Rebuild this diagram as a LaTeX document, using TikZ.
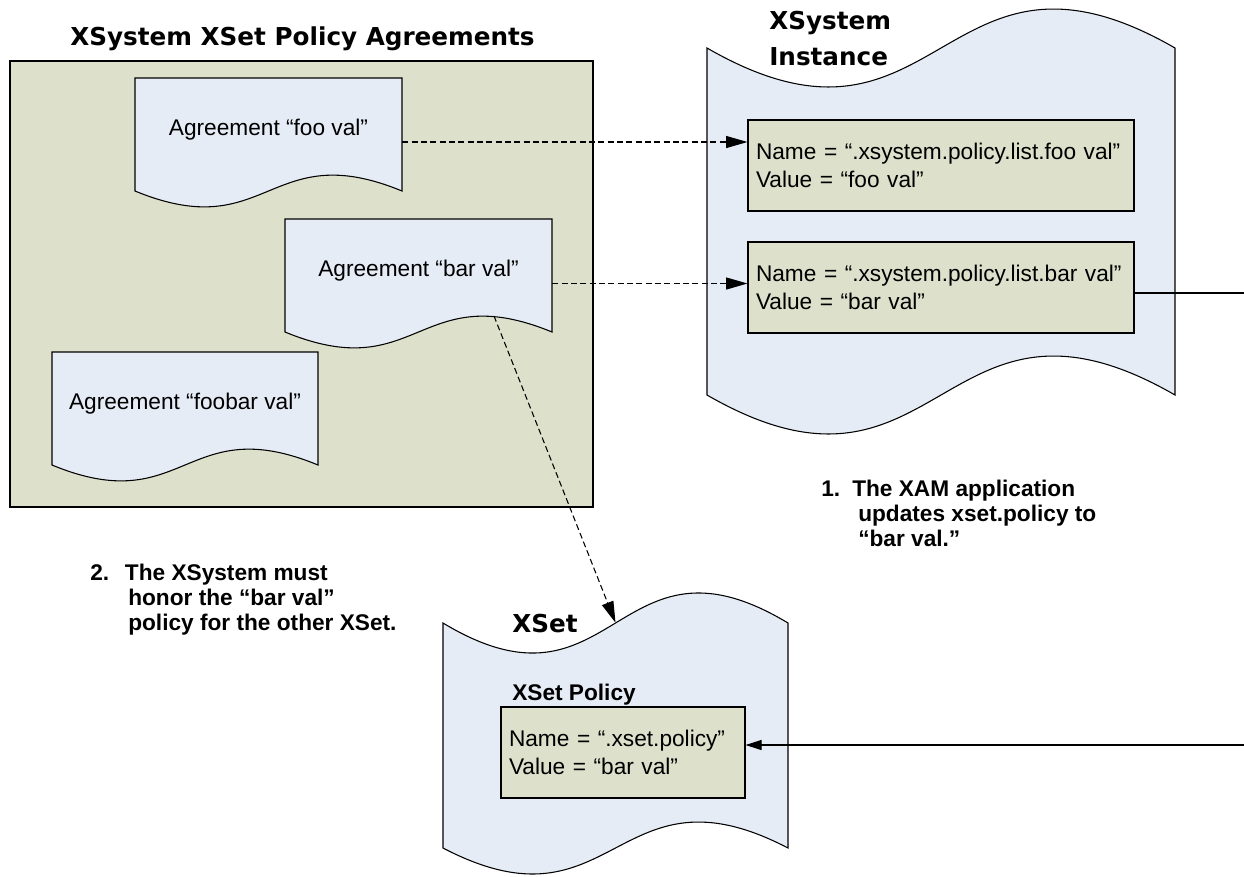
\documentclass[tikz,border=0pt]{standalone}
\usepackage{fontspec}
\setmainfont{Liberation Sans}
\newfontfamily\headfont{DejaVu Sans}
\usetikzlibrary{arrows.meta}
\definecolor{panelgreen}{RGB}{221,224,203}
\definecolor{paperblue}{RGB}{230,236,246}
\tikzset{
  outline/.style={draw=black, line width=0.8pt},
  docbox/.style={minimum width=200.25pt, minimum height=96pt, inner sep=0pt, text height=12pt, text depth=22.5pt, font=\fontsize{17}{20}\selectfont},
  itembox/.style={outline, fill=panelgreen, minimum height=68.25pt, inner xsep=6pt, inner ysep=0pt, align=left, font=\fontsize{17}{21}\selectfont},
  heading/.style={inner sep=0pt, font=\headfont\bfseries\fontsize{18.5}{27.5}\selectfont},
  note/.style={inner sep=0pt, align=left, font=\bfseries\fontsize{17}{18.75}\selectfont},
  dasharrow/.style={line width=0.8pt, dash pattern=on 4.5pt off 2.5pt, -{Triangle[length=16pt,width=9pt]}},
  solidarrow/.style={line width=0.8pt, -{Triangle[length=12pt,width=7.5pt]}}
}

\begin{document}
\begin{tikzpicture}[x=0.75pt,y=0.75pt,yscale=-1,xscale=1]
\useasboundingbox (0,0) rectangle (1244,876);

%Shape: Rectangle
\draw[outline, fill=panelgreen] (10,61) rectangle (593,507);
%Shape: Document
\draw[outline, fill=paperblue] (135,78) -- (135,191) .. controls (268.5,246) and (268.5,136) .. (402,191) -- (402,78) -- cycle;
%Shape: Document
\draw[outline, fill=paperblue] (285,219) -- (285,332) .. controls (418.5,387) and (418.5,277) .. (552,332) -- (552,219) -- cycle;
%Shape: Document
\draw[outline, fill=paperblue] (52,352) -- (52,465) .. controls (185,520) and (185,410) .. (318,465) -- (318,352) -- cycle;
%Shape: Tape
\draw[outline, fill=paperblue] (707,48) .. controls (941,183) and (941,-87) .. (1175,48) -- (1175,395) .. controls (941,260) and (941,530) .. (707,395) -- cycle;
%Shape: Tape
\draw[outline, fill=paperblue] (443,623) .. controls (615.5,727) and (615.5,519) .. (788,623) -- (788,848) .. controls (615.5,758) and (615.5,938) .. (443,848) -- cycle;

% Text Node
\node[heading, anchor=base] (title) at (302.5,45) {XSystem XSet Policy Agreements};
% Text Node
\node[heading, anchor=west, align=left] (systitle) at (769,38.5) {XSystem\\Instance};
% Text Node
\node[heading, anchor=base west] (settitle) at (512,632) {XSet};
% Text Node
\node[inner sep=0pt, anchor=base west, font=\bfseries\fontsize{17}{20}\selectfont] (policytitle) at (512,700) {XSet Policy};

% Text Node
\node[docbox] (foo) at (268.5,142) {Agreement “foo val”};
% Text Node
\node[docbox] (bar) at (418.5,283.5) {Agreement “bar val”};
% Text Node
\node[docbox] (foobar) at (185,416.5) {Agreement “foobar val”};
\node[inner sep=0pt, minimum width=258.75pt, minimum height=168.75pt] (xset) at (615.5,735.5) {};

% Text Node
\node[itembox, text width=277.5pt] (box1) at (941,165.5) {Name = “.xsystem.policy.list.foo val”\\Value = “foo val”};
% Text Node
\node[itembox, text width=277.5pt] (box2) at (941,287.5) {Name = “.xsystem.policy.list.bar val”\\Value = “bar val”};
% Text Node
\node[itembox, text width=171pt] (xsetbox) at (623,752.5) {Name = “.xset.policy”\\Value = “bar val”};

% Text Node
\node[note, anchor=west] (note1) at (821,513) {\makebox[23.25pt][l]{1.}The XAM application\\\hspace*{27.75pt}updates xset.policy to\\\hspace*{27.75pt}“bar val.”};
% Text Node
\node[note, anchor=west] (note2) at (90,600) {\makebox[26pt][l]{2.}The XSystem must\\\hspace*{28.5pt}honor the “bar val”\\\hspace*{28.5pt}policy for the other XSet.};

%Straight Lines
\draw[dasharrow] (foo.east) -- (foo.east -| box1.west);
%Straight Lines
\draw[dasharrow] (bar.east) -- (bar.east -| box2.west);
%Straight Lines
\coordinate (barwave) at (494,316);
\draw[dasharrow] (barwave) -- (xset.north);
%Straight Lines
\coordinate (edgeA) at (1244,293);
\draw[line width=0.8pt] (box2.east |- edgeA) -- (edgeA);
%Straight Lines
\coordinate (edgeB) at (1244,745);
\draw[solidarrow] (edgeB) -- (edgeB -| xsetbox.east);

\end{tikzpicture}
\end{document}
